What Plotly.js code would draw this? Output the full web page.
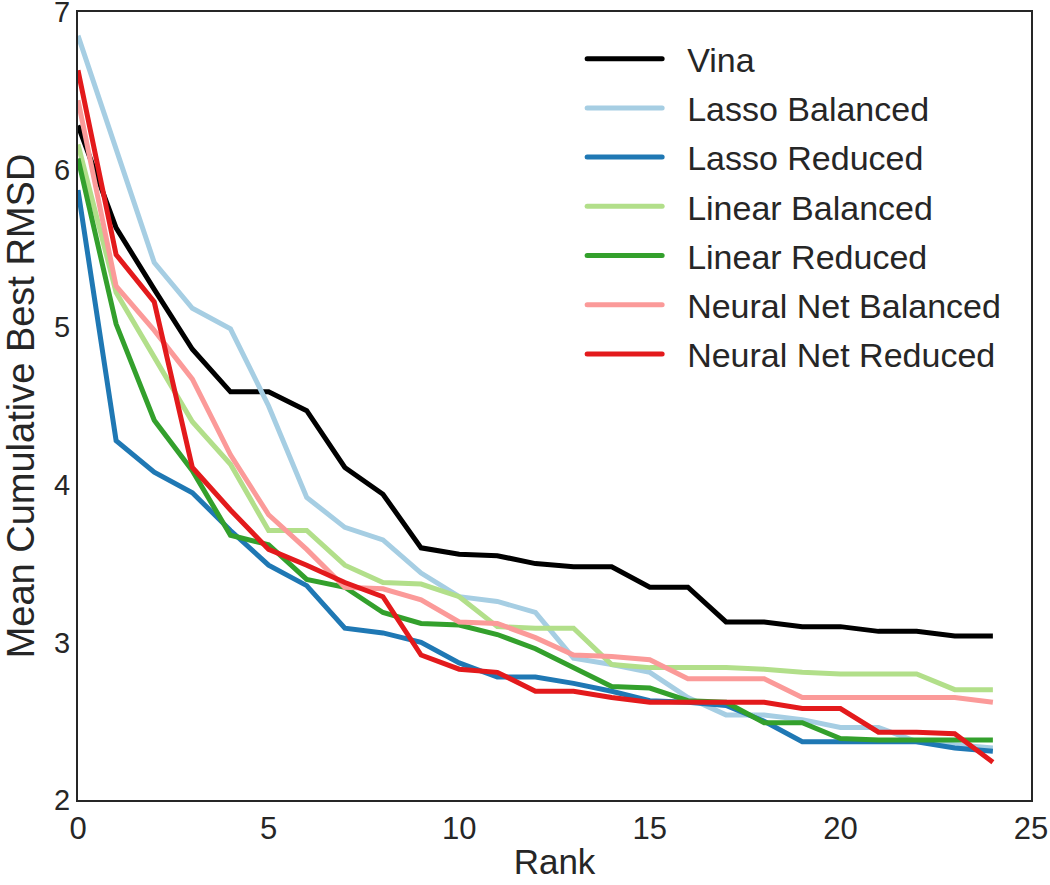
<!DOCTYPE html>
<html>
<head>
<meta charset="utf-8">
<script src="https://cdn.plot.ly/plotly-3.0.1.min.js"></script>
<style>
  body { margin: 0; background: #fff; }
  #plot { width: 1050px; height: 885px; }
</style>
</head>
<body>
<div id="plot"></div>
<script>
// rank 0..24
let ranks = [];
for (var i = 0; i < 25; i++) ranks.push(i);

// mean cumulative best RMSD per method
let vina = [6.28, 5.63, 5.24, 4.86, 4.59, 4.59, 4.47, 4.11, 3.94, 3.60, 3.56, 3.55, 3.50, 3.48, 3.48, 3.35, 3.35, 3.13, 3.13, 3.10, 3.10, 3.07, 3.07, 3.04, 3.04];
let lassoBalanced = [6.85, 6.14, 5.41, 5.12, 4.99, 4.50, 3.92, 3.73, 3.65, 3.44, 3.29, 3.26, 3.19, 2.90, 2.86, 2.81, 2.65, 2.54, 2.54, 2.51, 2.46, 2.46, 2.37, 2.35, 2.33];
let lassoReduced = [5.87, 4.28, 4.08, 3.95, 3.71, 3.49, 3.36, 3.09, 3.06, 3.00, 2.87, 2.78, 2.78, 2.74, 2.69, 2.63, 2.62, 2.60, 2.50, 2.37, 2.37, 2.37, 2.37, 2.33, 2.31];
let linearBalanced = [6.16, 5.22, 4.81, 4.40, 4.13, 3.71, 3.71, 3.49, 3.38, 3.37, 3.29, 3.10, 3.09, 3.09, 2.86, 2.84, 2.84, 2.84, 2.83, 2.81, 2.80, 2.80, 2.80, 2.70, 2.70];
let linearReduced = [6.07, 5.02, 4.41, 4.09, 3.68, 3.62, 3.40, 3.35, 3.19, 3.12, 3.11, 3.05, 2.96, 2.84, 2.72, 2.71, 2.63, 2.62, 2.49, 2.49, 2.39, 2.38, 2.38, 2.38, 2.38];
let nnBalanced = [6.44, 5.26, 4.98, 4.67, 4.19, 3.81, 3.59, 3.35, 3.34, 3.27, 3.13, 3.12, 3.03, 2.92, 2.91, 2.89, 2.77, 2.77, 2.77, 2.65, 2.65, 2.65, 2.65, 2.65, 2.62];
let nnReduced = [6.63, 5.46, 5.16, 4.11, 3.84, 3.59, 3.49, 3.38, 3.29, 2.92, 2.83, 2.81, 2.69, 2.69, 2.65, 2.62, 2.62, 2.62, 2.62, 2.58, 2.58, 2.43, 2.43, 2.42, 2.24];

let names = ["Vina", "Lasso Balanced", "Lasso Reduced", "Linear Balanced", "Linear Reduced", "Neural Net Balanced", "Neural Net Reduced"];
let series = [vina, lassoBalanced, lassoReduced, linearBalanced, linearReduced, nnBalanced, nnReduced];
let colors = ["#000000", "#a6cee3", "#1f78b4", "#b2df8a", "#33a02c", "#fb9a99", "#e31a1c"];

// one trace per method (own legend group so tracegroupgap spaces the rows)
let data = [];
for (var i = 0; i < series.length; i++) {
    data.push({
        x: ranks,
        y: series[i],
        name: names[i],
        legendgroup: "g" + i,
        type: "scatter",
        mode: "lines",
        line: { color: colors[i], width: 5 }
    });
}

let layout = {
    width: 1050,
    height: 885,
    font: { family: "Liberation Sans, Arial, sans-serif", size: 30, color: "#262626" },
    paper_bgcolor: "#fff",
    plot_bgcolor: "#fff",
    showlegend: true,
    margin: { l: 78, r: 19, t: 12, b: 85 },
    xaxis: {
        range: [0, 25],
        tickvals: [0, 5, 10, 15, 20, 25],
        showgrid: false,
        zeroline: false,
        showline: true,
        mirror: true,
        linecolor: "#262626",
        linewidth: 2,
        ticks: "",
        ticklabeloverflow: "allow",
        tickfont: { size: 31 },
        title: { text: "Rank", font: { size: 35 }, standoff: 4 }
    },
    yaxis: {
        range: [2, 7],
        tickvals: [2, 3, 4, 5, 6, 7],
        showgrid: false,
        zeroline: false,
        showline: true,
        mirror: true,
        linecolor: "#262626",
        linewidth: 2,
        ticks: "",
        ticklabeloverflow: "allow",
        tickfont: { size: 29 },
        title: { text: "Mean Cumulative Best RMSD", font: { size: 38 }, standoff: 8 }
    },
    legend: {
        x: 0.529,
        y: 0.977,
        xanchor: "left",
        yanchor: "top",
        bgcolor: "rgba(0,0,0,0)",
        font: { size: 34 },
        itemwidth: 95,
        tracegroupgap: 2
    }
};

Plotly.newPlot("plot", data, layout, { displayModeBar: false, staticPlot: true }).then(function () {
    // stretch the legend sample lines to the longer look of the original
    document.querySelectorAll(".legend .legendlines path").forEach(function (p) {
        p.setAttribute("d", "M5,0h75");
        p.style.strokeLinecap = "round";
    });
});
</script>
</body>
</html>
